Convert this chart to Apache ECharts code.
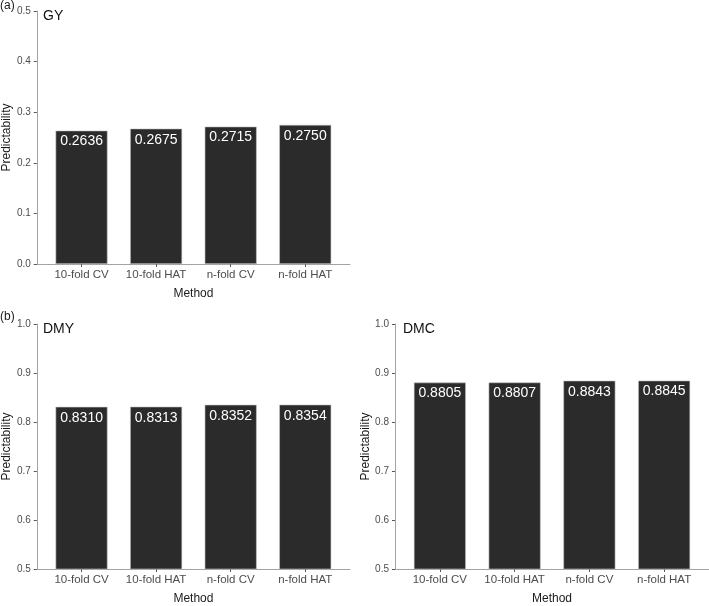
<!DOCTYPE html>
<html>
<head>
<meta charset="utf-8">
<script src="https://cdn.jsdelivr.net/npm/echarts@6/dist/echarts.min.js"></script>
<style>
html,body{margin:0;padding:0;background:#fff;}
#chart{width:709px;height:606px;}
</style>
</head>
<body>
<div id="chart"></div>
<script>
const categories = ['10-fold CV', '10-fold HAT', 'n-fold CV', 'n-fold HAT'];
const positions = [1, 2, 3, 4];
const gyValues = [0.2636, 0.2675, 0.2715, 0.2750];
const dmyValues = [0.8310, 0.8313, 0.8352, 0.8354];
const dmcValues = [0.8805, 0.8807, 0.8843, 0.8845];
const panelTitles = ['GY', 'DMY', 'DMC'];
const panelTags = ['(a)', '(b)'];

const FONT = '"Liberation Sans", Arial, sans-serif';
const AXIS_COLOR = '#a3a3a3';
const TICK_TEXT = '#4d4d4d';

const chart = echarts.init(document.getElementById('chart'), null, {renderer: 'canvas'});

const grids = [
  {left: 35, top: 11, width: 315, height: 253},
  {left: 35, top: 324, width: 315, height: 253},
  {left: 395, top: 324, width: 314, height: 253}
];

function xAxisFor(i) {
  return {
    type: 'value', gridIndex: i, min: 0.4, max: 4.6,
    name: 'Method', nameLocation: 'middle', nameGap: 24,
    nameTextStyle: {fontFamily: FONT, fontSize: 12, color: '#1a1a1a'},
    splitLine: {show: false},
    axisLine: {show: true, lineStyle: {color: AXIS_COLOR, width: 1}},
    axisTick: {show: true, length: 3, lineStyle: {color: '#555'}, customValues: positions},
    axisLabel: {
      customValues: positions, margin: 5,
      fontFamily: FONT, fontSize: 11.5, color: TICK_TEXT,
      formatter: v => categories[Math.round(v) - 1] || ''
    }
  };
}
function yAxisFor(i, min, max) {
  return {
    type: 'value', gridIndex: i, min: min, max: max, interval: 0.1,
    name: 'Predictability', nameLocation: 'middle', nameGap: 22,
    nameTextStyle: {fontFamily: FONT, fontSize: 12, color: '#1a1a1a'},
    splitLine: {show: false},
    axisLine: {show: true, lineStyle: {color: AXIS_COLOR, width: 1}},
    axisTick: {show: true, length: 3, lineStyle: {color: '#555'}},
    axisLabel: {
      margin: 6, fontFamily: FONT, fontSize: 10, color: TICK_TEXT,
      formatter: v => v.toFixed(1)
    }
  };
}
function barSeries(i, values) {
  return {
    type: 'bar', xAxisIndex: i, yAxisIndex: i,
    data: positions.map((p, k) => [p, values[k]]),
    barWidth: 52,
    itemStyle: {color: '#2b2b2b', borderColor: '#c4c4c4', borderWidth: 0.6},
    label: {
      show: true, position: 'insideTop', distance: 4,
      fontFamily: FONT, fontSize: 14, color: '#ffffff',
      formatter: p => p.value[1].toFixed(4)
    },
    silent: true,
    animation: false
  };
}

const option = {
  backgroundColor: '#ffffff',
  animation: false,
  grid: grids,
  title: [
    {text: panelTags[0], left: 0, top: 0, textStyle: {fontFamily: FONT, fontSize: 12, fontWeight: 'normal', color: '#1a1a1a'}, padding: 0},
    {text: panelTags[1], left: 0, top: 311, textStyle: {fontFamily: FONT, fontSize: 12, fontWeight: 'normal', color: '#1a1a1a'}, padding: 0},
    {text: panelTitles[0], left: 43, top: 9, textStyle: {fontFamily: FONT, fontSize: 14, fontWeight: 'normal', color: '#111'}, padding: 0},
    {text: panelTitles[1], left: 43, top: 322, textStyle: {fontFamily: FONT, fontSize: 14, fontWeight: 'normal', color: '#111'}, padding: 0},
    {text: panelTitles[2], left: 403, top: 322, textStyle: {fontFamily: FONT, fontSize: 14, fontWeight: 'normal', color: '#111'}, padding: 0}
  ],
  xAxis: [xAxisFor(0), xAxisFor(1), xAxisFor(2)],
  yAxis: [yAxisFor(0, 0, 0.5), yAxisFor(1, 0.5, 1.0), yAxisFor(2, 0.5, 1.0)],
  series: [barSeries(0, gyValues), barSeries(1, dmyValues), barSeries(2, dmcValues)]
};
chart.setOption(option);
</script>
</body>
</html>
